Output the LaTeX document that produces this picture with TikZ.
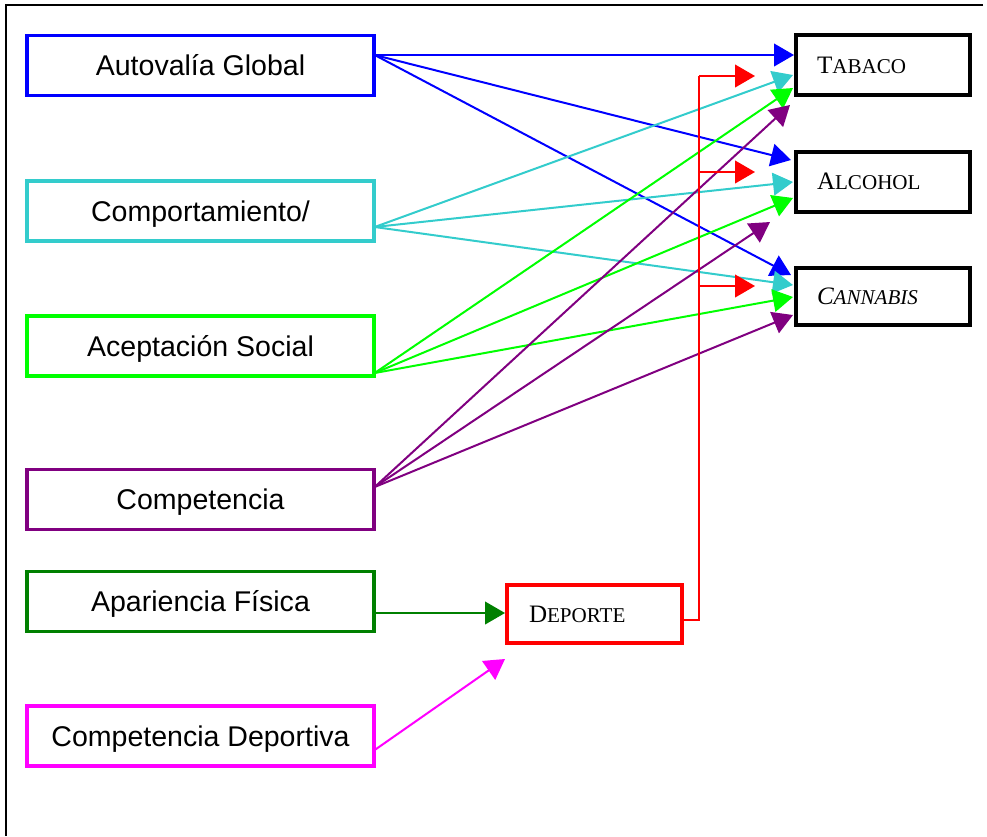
\documentclass[tikz,border=0pt]{standalone}
\usepackage{fontspec}
\setmainfont{Liberation Sans}
\newfontfamily\serifface{Liberation Serif}
\usetikzlibrary{arrows.meta}

\definecolor{cblue}{RGB}{0,0,255}
\definecolor{ccyan}{RGB}{51,204,204}
\definecolor{cgreen}{RGB}{0,255,0}
\definecolor{cpurple}{RGB}{128,0,128}
\definecolor{cdgreen}{RGB}{0,128,0}
\definecolor{cmag}{RGB}{255,0,255}
\definecolor{cred}{RGB}{255,0,0}

% small capitals built from two sizes of the serif face
\newcommand{\mysc}[2]{{\fontsize{18.8}{20}\selectfont #1}{\fontsize{15.8}{20}\selectfont #2}}

\begin{document}
\begin{tikzpicture}[x=0.75pt,y=-0.75pt,
  srcbox/.style={draw, line width=2.5pt, minimum width=260.25pt, minimum height=45pt,
    inner sep=0pt, font=\fontsize{21.4}{24}\selectfont, text height=15.3pt, text depth=0pt},
  outbox/.style={draw=black, line width=3pt, minimum height=45pt, inner xsep=15.75pt,
    text width=99pt, align=left, font=\serifface, text height=12.45pt, text depth=0pt},
  link/.style={line width=1.5pt, -{Triangle[length=15pt,width=17pt]}},
  bus/.style={line width=1.5pt, draw=cred}
]
\useasboundingbox (0,0) rectangle (987,836);

% outer frame
\draw[line width=1.5pt] (983,5) -- (6,5) -- (6,836);

% predictor boxes
\node[srcbox, draw=cblue]    (auto)   at (200.5,65.5)  {Autovalía Global};
\node[srcbox, draw=ccyan]    (comp)   at (200.5,211)   {Comportamiento/};
\node[srcbox, draw=cgreen]   (acep)   at (200.5,346)   {Aceptación Social};
\node[srcbox, draw=cpurple]  (compet) at (200.5,499.5) {Competencia};
\node[srcbox, draw=cdgreen]  (apar)   at (200.5,601.5) {Apariencia Física};
\node[srcbox, draw=cmag]     (cdep)   at (200.5,736)   {Competencia Deportiva};

% outcome boxes
\node[outbox] (tab) at (883,65)    {\mysc{T}{ABACO}};
\node[outbox] (alc) at (883,181.5) {\mysc{A}{LCOHOL}};
\node[outbox, minimum height=42.75pt] (can) at (883,296.5) {\itshape\mysc{C}{ANNABIS}};

% sport box
\node[outbox, draw=cred, minimum height=43.5pt, inner xsep=16.5pt, text width=98.25pt]
  (dep) at (594.5,614) {\mysc{D}{EPORTE}};

% Autovalía Global
\draw[link, cblue] ([shift={(-1,-10.5)}]auto.east) -- ([shift={(0,-10)}]tab.west);
\draw[link, cblue] ([shift={(-1,-10.5)}]auto.east) -- ([shift={(-3,-21.5)}]alc.west);
\draw[link, cblue] ([shift={(-1,-10.5)}]auto.east) -- ([shift={(-3,-21.5)}]can.west);

% Comportamiento
\draw[link, ccyan] ([shift={(-1,16)}]comp.east) -- ([shift={(-1,10)}]tab.west);
\draw[link, ccyan] ([shift={(-1,16)}]comp.east) -- ([shift={(-1,0.5)}]alc.west);
\draw[link, ccyan] ([shift={(-1,16)}]comp.east) -- ([shift={(-1,-11.5)}]can.west);

% Aceptación Social
\draw[link, cgreen] ([shift={(-1,27)}]acep.east) -- ([shift={(-1,23)}]tab.west);
\draw[link, cgreen] ([shift={(-1,27)}]acep.east) -- ([shift={(-1,16.5)}]alc.west);
\draw[link, cgreen] ([shift={(-1,27)}]acep.east) -- ([shift={(-1,0.5)}]can.west);

% Competencia
\draw[link, cpurple] ([shift={(-1,-12.5)}]compet.east) -- ([shift={(-4,40)}]tab.west);
\draw[link, cpurple] ([shift={(-1,-12.5)}]compet.east) -- ([shift={(-24,40.5)}]alc.west);
\draw[link, cpurple] ([shift={(-1,-12.5)}]compet.east) -- ([shift={(-1,18.5)}]can.west);

% into Deporte
\draw[link, cdgreen] ([shift={(-1,11.5)}]apar.east) -- ([shift={(0,-1)}]dep.west);
\draw[link, cmag] ([shift={(-1,14)}]cdep.east) -- ([shift={(0,14)}]dep.south west);

% Deporte bus
\coordinate (b1) at (699,76);
\coordinate (b2) at (699,172);
\coordinate (b3) at (699,286);
\coordinate (t1) at (755,76);
\coordinate (t2) at (755,172);
\coordinate (t3) at (755,286);
\draw[bus] ([shift={(0,6)}]dep.east) -| (b1);
\draw[link, cred] (b1) -- (t1);
\draw[link, cred] (b2) -- (t2);
\draw[link, cred] (b3) -- (t3);
\end{tikzpicture}
\end{document}
